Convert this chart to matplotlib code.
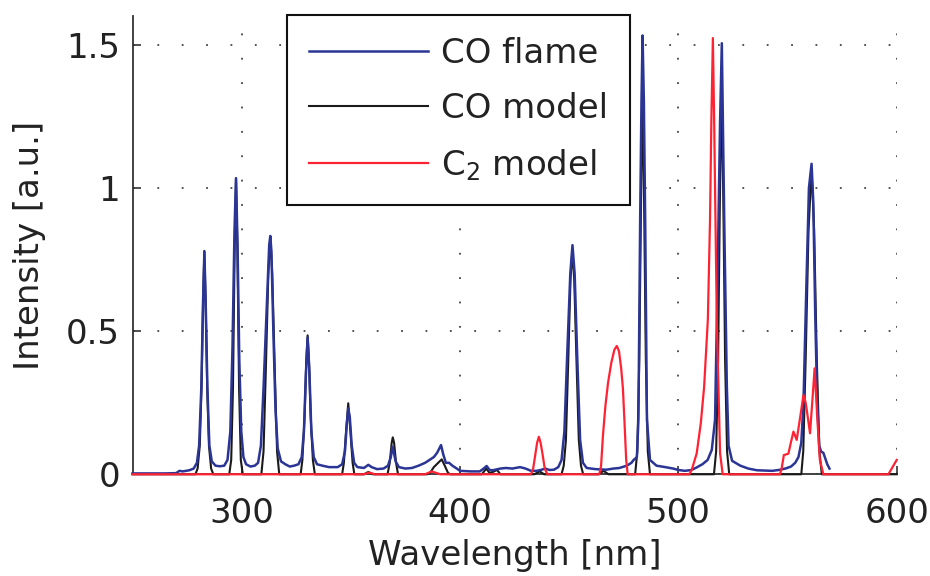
import matplotlib
matplotlib.use("Agg")
import matplotlib.pyplot as plt

plt.rcParams['font.family'] = ['DejaVu Sans']
plt.rcParams['mathtext.default'] = 'regular'

# ---- data ----
flame_wl = [250, 265, 270, 271.5, 273, 276, 278, 279.5, 280.5, 281.5, 282.3, 282.9, 283.5, 284.3, 285.2, 286.3, 288, 290, 292,
            293.5, 294.8, 295.8, 296.7, 297.4, 298.1, 298.9, 299.8, 300.8, 302, 304, 306, 307.5, 308.8, 310, 311.8, 312.6,
            313.1, 313.6, 314.5, 315.5, 316.5, 318, 320, 322, 324, 326, 327.5, 328.5, 329.4, 330.2, 331, 331.9, 333, 334.5,
            337, 340, 344, 346, 347.3, 348.1, 348.8, 349.5, 350.4, 351.5, 353, 356, 358, 359.5, 362, 365, 367, 368.3, 369.1,
            369.6, 370.5, 372, 375, 378, 381, 384, 386, 388, 389.5, 390.5, 391.3, 392.3, 393.5, 395, 396.5, 398.5, 400, 405,
            409, 410.5, 412.2, 413.5, 415, 417.3, 418.5, 421, 424, 427.5, 430, 432.5, 435, 437, 439, 441, 443, 445, 446.5,
            447.8, 449, 450.5, 451.5, 452.5, 453.8, 455, 456.3, 458, 462, 464.2, 467, 470.3, 473, 476.4, 478.5, 479.5, 481,
            481.7, 482.5, 483.1, 483.6, 484.2, 484.8, 485.6, 487, 490, 494, 497.6, 500, 503, 506, 508.4, 511, 513.4, 515.3,
            516.8, 517.9, 519.1, 519.9, 521, 522.2, 523, 524.6, 528.4, 532, 536, 543, 546, 549, 551.6, 553.5, 555, 556.3,
            557.3, 558.5, 559.8, 561, 561.8, 562.7, 563.6, 564.5, 565.4, 566.4, 567.3, 568.2, 569.2]
flame_int = [0.003, 0.003, 0.004, 0.012, 0.01, 0.014, 0.02, 0.04, 0.10, 0.30, 0.60, 0.777, 0.60, 0.30, 0.10, 0.045, 0.03, 0.028, 0.03,
             0.05, 0.15, 0.45, 0.85, 1.034, 0.80, 0.40, 0.15, 0.06, 0.035, 0.027, 0.03, 0.04, 0.10, 0.30, 0.65, 0.80,
             0.832, 0.78, 0.50, 0.22, 0.09, 0.045, 0.035, 0.027, 0.03, 0.035, 0.06, 0.15, 0.35, 0.477, 0.36, 0.15, 0.06, 0.035,
             0.03, 0.025, 0.025, 0.035, 0.08, 0.17, 0.23, 0.20, 0.10, 0.04, 0.025, 0.022, 0.033, 0.025, 0.018, 0.02, 0.03, 0.06, 0.096,
             0.08, 0.045, 0.025, 0.02, 0.022, 0.03, 0.04, 0.05, 0.06, 0.075, 0.09, 0.102, 0.07, 0.04, 0.04, 0.03, 0.02, 0.012, 0.01,
             0.01, 0.018, 0.029, 0.015, 0.014, 0.018, 0.02, 0.022, 0.02, 0.025, 0.02, 0.012, 0.012, 0.015, 0.02, 0.015, 0.016, 0.025, 0.05,
             0.15, 0.40, 0.70, 0.80, 0.70, 0.38, 0.12, 0.04, 0.022, 0.018, 0.017, 0.016, 0.02, 0.022, 0.03, 0.04, 0.05, 0.06,
             0.19, 0.89, 1.3, 1.532, 1.3, 0.89, 0.19, 0.05, 0.03, 0.025, 0.02, 0.015, 0.012, 0.015, 0.024, 0.035, 0.05, 0.085,
             0.19, 0.655, 1.23, 1.505, 0.89, 0.306, 0.10, 0.047, 0.03, 0.02, 0.014, 0.012, 0.015, 0.02, 0.027, 0.04, 0.06, 0.11,
             0.25, 0.62, 1.0, 1.084, 0.95, 0.55, 0.25, 0.10, 0.079, 0.075, 0.055, 0.035, 0.02]

co_wl = [250, 278.8, 279.8, 280.8, 281.6, 282.3, 282.9, 283.5, 284.2, 285.0, 286.0, 287,
         294.3, 295.2, 296, 296.8, 297.4, 298.0, 298.8, 299.6, 300.5,
         309, 310, 311, 312.2, 313.1, 314, 315.2, 316.2, 317.2,
         327, 327.8, 328.8, 329.6, 330.2, 330.8, 331.6, 332.6, 333.5,
         346, 346.8, 347.8, 348.8, 349.8, 350.8, 351.6,
         356, 358, 360,
         366.8, 367.8, 368.7, 369.2, 369.8, 370.7, 371.6,
         385, 386.3, 388, 390, 391.6, 393, 394.5, 395.5,
         410, 412, 413.5, 415, 417, 418.5,
         434, 436.5, 438.5,
         446.5, 447.5, 448.5, 449.5, 450.6, 451.4, 452.3, 453.4, 454.4, 455.4, 456.4,
         463.5, 465.7, 468,
         480.2, 481.2, 482.1, 482.9, 483.6, 484.3, 485.1, 486, 487,
         516.3, 517.3, 518.2, 519, 519.8, 520.6, 521.4, 522.3, 523.3,
         556.3, 557.2, 558.3, 559.6, 561, 562.2, 563.4, 564.6, 565.7, 600]
co_int = [0, 0, 0.02, 0.10, 0.30, 0.60, 0.78, 0.60, 0.30, 0.10, 0.02, 0,
          0, 0.05, 0.30, 0.80, 1.03, 0.80, 0.30, 0.05, 0,
          0, 0.08, 0.35, 0.70, 0.83, 0.70, 0.35, 0.08, 0,
          0, 0.05, 0.2, 0.40, 0.485, 0.40, 0.2, 0.05, 0,
          0, 0.04, 0.15, 0.248, 0.15, 0.04, 0,
          0, 0.008, 0,
          0, 0.04, 0.11, 0.129, 0.11, 0.04, 0,
          0, 0.005, 0.025, 0.04, 0.052, 0.03, 0.005, 0,
          0, 0.02, 0.005, 0.008, 0.015, 0,
          0, 0.01, 0,
          0, 0.03, 0.12, 0.38, 0.68, 0.78, 0.68, 0.38, 0.12, 0.03, 0,
          0, 0.012, 0,
          0, 0.08, 0.4, 0.95, 1.36, 0.95, 0.4, 0.08, 0,
          0, 0.08, 0.4, 0.95, 1.348, 0.95, 0.4, 0.08, 0,
          0, 0.08, 0.4, 0.85, 1.065, 0.85, 0.4, 0.08, 0, 0]

c2_wl = [250, 356, 358.5, 361, 384, 387, 389, 391,
         432.5, 433.5, 434.5, 435.3, 436.1, 436.9, 437.8, 438.8, 440,
         463.8, 464.6, 465.5, 466.6, 467.8, 469.3, 470.7, 471.8, 472.8, 473.8, 474.6, 475.4, 476.1, 476.8,
         505, 506.1, 508.4, 510.3, 511.8, 513.5, 514.5, 515.1, 515.8, 516.4, 517.6, 519.1, 520.3,
         546.5, 547.3, 548.3, 550.4, 551.5, 552.7, 554.2, 555.8, 557.3, 558.3, 558.8, 560.3, 561.5, 562.4, 563.6, 564.8, 566.4,
         596.2, 600]
c2_int = [0, 0, 0.006, 0, 0, 0.01, 0.005, 0,
          0, 0.02, 0.07, 0.11, 0.131, 0.11, 0.07, 0.02, 0,
          0, 0.03, 0.14, 0.24, 0.32, 0.39, 0.435, 0.448, 0.43, 0.37, 0.30, 0.17, 0.05, 0,
          0, 0.015, 0.073, 0.18, 0.306, 0.54, 0.89, 1.23, 1.523, 1.23, 0.54, 0.073, 0,
          0, 0.02, 0.067, 0.072, 0.11, 0.149, 0.12, 0.2, 0.277, 0.25, 0.225, 0.143, 0.271, 0.37, 0.2, 0.05, 0,
          0, 0.05]

x_ticks = [300, 400, 500, 600]
y_ticks = [0, 0.5, 1, 1.5]
y_ticklabels = ['0', '0.5', '1', '1.5']
labels = ['CO flame', 'CO model', 'C$_2$ model']

# ---- figure ----
FS = 24.5
fig = plt.figure(figsize=(9.3, 5.76), dpi=100)
ax = fig.add_axes([0.1425, 0.1766, 0.8217, 0.7956])

blue = '#2b3595'
black = '#1a1a1a'
red = '#ff2233'

l_co, = ax.plot(co_wl, co_int, color=black, lw=1.5, zorder=3, clip_on=False)
l_fl, = ax.plot(flame_wl, flame_int, color=blue, lw=1.8, zorder=4, clip_on=False)
l_c2, = ax.plot(c2_wl, c2_int, color=red, lw=1.6, zorder=5, clip_on=False)

ax.set_xlim(250, 600)
ax.set_ylim(0, 1.6)
ax.set_xticks(x_ticks)
ax.set_xticklabels([str(t) for t in x_ticks])
ax.set_yticks(y_ticks)
ax.set_yticklabels(y_ticklabels)

for s in ['top', 'right']:
    ax.spines[s].set_visible(False)
for s in ['left', 'bottom']:
    ax.spines[s].set_linewidth(1.3)
    ax.spines[s].set_color('#333333')

ax.tick_params(direction='in', length=6, width=1.2, colors='#333333',
               labelsize=FS, labelcolor='#222222')
ax.tick_params(axis='x', pad=16)
ax.tick_params(axis='y', pad=9)

ax.grid(True, linestyle=(0, (1, 12.5)), linewidth=1.3, color='#444444')
ax.set_axisbelow(True)

ax.set_xlabel('Wavelength [nm]', fontsize=FS, color='#222222')
ax.set_ylabel('Intensity [a.u.]', fontsize=FS, color='#222222')
ax.xaxis.set_label_coords(0.5, -0.142)
ax.yaxis.set_label_coords(-0.113, 0.5)

leg = ax.legend([l_fl, l_co, l_c2], labels, loc='upper left',
                bbox_to_anchor=(287 / 930, 1 - 15 / 576), bbox_transform=fig.transFigure,
                borderaxespad=0, fontsize=FS, handlelength=3.5, handletextpad=0.38,
                borderpad=0.65, labelspacing=0.65, fancybox=False, framealpha=1,
                edgecolor='#111111')
leg.get_frame().set_linewidth(1.5)
for t in leg.get_texts():
    t.set_color('#222222')
leg.set_zorder(10)

fig.savefig('out.png', dpi=100)
